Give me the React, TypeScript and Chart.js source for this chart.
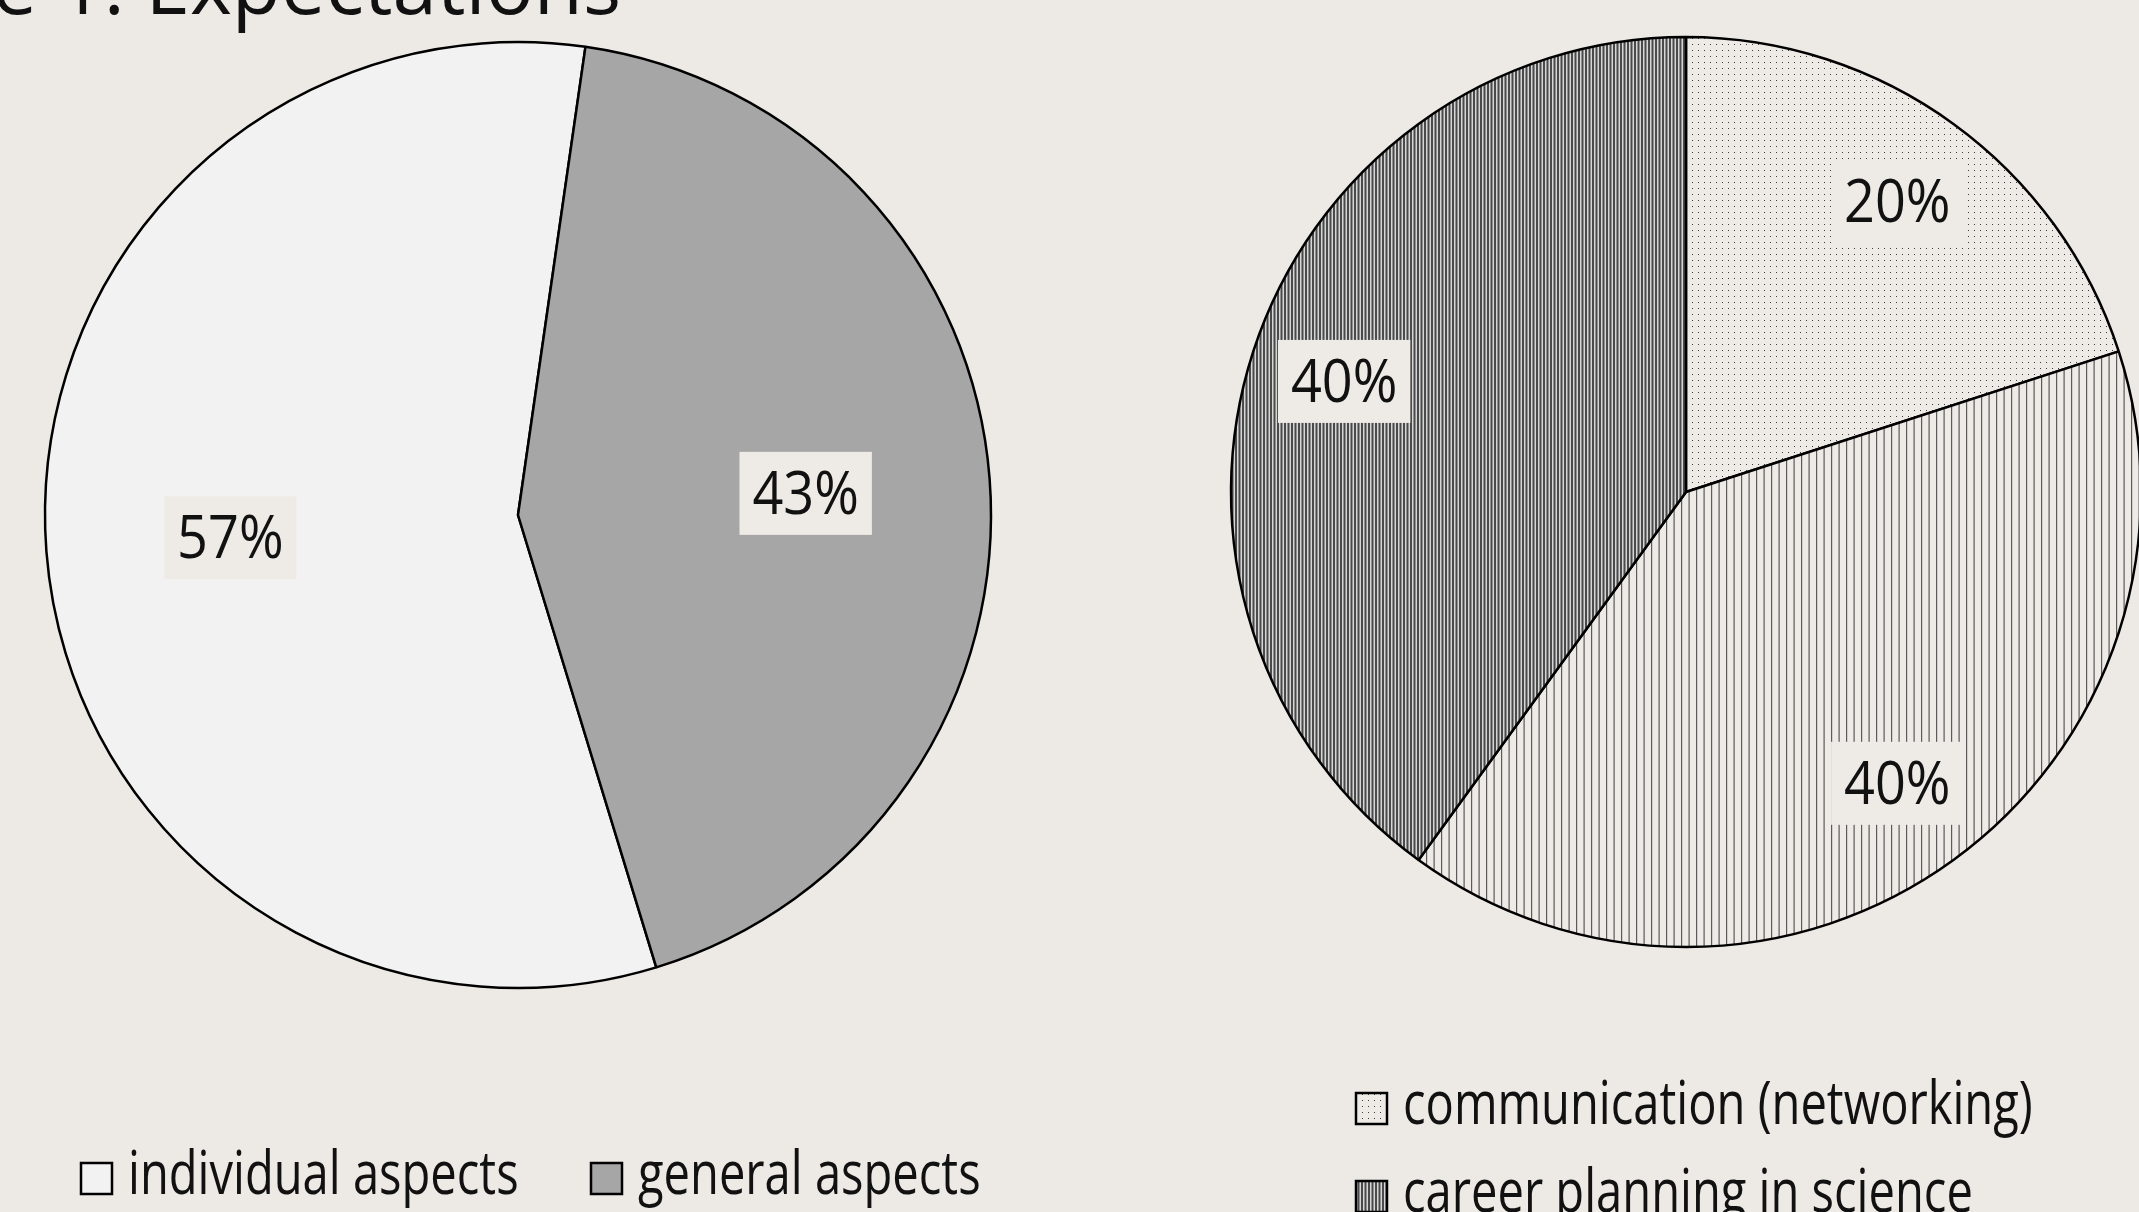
import React, { useEffect, useRef } from "react";
import { Chart, registerables } from "chart.js";

Chart.register(...registerables);

// ---------- data ----------
const titleText = "Figure 1: Expectations";

const leftCategories = ["individual aspects", "general aspects"];
const leftValues = [57, 43];

const rightCategories = ["communication (networking)", "career planning in science", "other topics"];
const rightValues = [20, 40, 40];

// ---------- styles ----------
const PAGE_BG = "#EDEAE5";
const LABEL_BG = "#EEEBE7";
const TEXT_FONT = '"Open Sans", "Noto Sans", sans-serif';
const LABEL_SX = 0.9; // horizontal condensing of slice labels
const LEGEND_SX = 0.785; // horizontal condensing of legend text

type Swatch = string | CanvasPattern;

function makeTile(w: number, h: number, draw: (g: CanvasRenderingContext2D) => void) {
  const c = document.createElement("canvas");
  c.width = w;
  c.height = h;
  const g = c.getContext("2d")!;
  draw(g);
  return c;
}

function makePatterns(ctx: CanvasRenderingContext2D) {
  const dots = makeTile(6, 6, (g) => {
    g.fillStyle = "#EEEBE7";
    g.fillRect(0, 0, 6, 6);
    g.fillStyle = "#3c3c3c";
    g.fillRect(2, 2, 1, 1);
  });
  const light = makeTile(15, 8, (g) => {
    g.fillStyle = "#EEEBE7";
    g.fillRect(0, 0, 15, 8);
    g.fillStyle = "#5a5a5a";
    g.fillRect(0, 0, 1.2, 8);
    g.fillRect(7.5, 0, 1.2, 8);
  });
  const dense = makeTile(7, 8, (g) => {
    g.fillStyle = "#d6d6d6";
    g.fillRect(0, 0, 7, 8);
    g.fillStyle = "#4a4a4a";
    g.fillRect(0, 0, 2, 8);
    g.fillRect(3.5, 0, 2, 8);
  });
  return {
    dots: ctx.createPattern(dots, "repeat")!,
    light: ctx.createPattern(light, "repeat")!,
    dense: ctx.createPattern(dense, "repeat")!,
  };
}

function drawCondensed(ctx: CanvasRenderingContext2D, text: string, x: number, y: number, sx: number) {
  ctx.save();
  ctx.translate(x, y);
  ctx.scale(sx, 1);
  ctx.fillText(text, 0, 0);
  ctx.restore();
}

function sliceLabelPlugin(frac: number) {
  return {
    id: "sliceLabels",
    afterDatasetsDraw(chart: any) {
      const ctx: CanvasRenderingContext2D = chart.ctx;
      const meta = chart.getDatasetMeta(0);
      const data = chart.data.datasets[0].data as number[];
      ctx.save();
      ctx.font = `60px ${TEXT_FONT}`;
      ctx.textAlign = "center";
      ctx.textBaseline = "alphabetic";
      meta.data.forEach((arc: any, i: number) => {
        const p = arc.getProps(["x", "y", "startAngle", "endAngle", "outerRadius"], true);
        const mid = (p.startAngle + p.endAngle) / 2;
        const r = p.outerRadius * frac;
        const cx = p.x + Math.cos(mid) * r;
        const cy = p.y + Math.sin(mid) * r;
        const text = `${data[i]}%`;
        const w = ctx.measureText(text).width * LABEL_SX;
        ctx.fillStyle = LABEL_BG;
        ctx.fillRect(cx - w / 2 - 13, cy - 41, w + 26, 83);
        ctx.fillStyle = "#111";
        drawCondensed(ctx, text, cx, cy + 21, LABEL_SX);
      });
      ctx.restore();
    },
  };
}

type LegendItem = { x: number; y: number; text: string; fill: Swatch };

function legendPlugin(getItems: () => LegendItem[]) {
  return {
    id: "customLegend",
    afterDraw(chart: any) {
      const ctx: CanvasRenderingContext2D = chart.ctx;
      ctx.save();
      ctx.font = `60px ${TEXT_FONT}`;
      ctx.textAlign = "left";
      ctx.textBaseline = "alphabetic";
      for (const it of getItems()) {
        const box = 31;
        ctx.fillStyle = it.fill as any;
        ctx.fillRect(it.x, it.y - box, box, box);
        ctx.lineWidth = 2.5;
        ctx.strokeStyle = "#000";
        ctx.strokeRect(it.x, it.y - box, box, box);
        ctx.fillStyle = "#111";
        drawCondensed(ctx, it.text, it.x + 47, it.y, LEGEND_SX);
      }
      ctx.restore();
    },
  };
}

const titlePlugin = {
  id: "titleText",
  afterDraw(chart: any) {
    const ctx: CanvasRenderingContext2D = chart.ctx;
    ctx.save();
    ctx.font = `400 80px ${TEXT_FONT}`;
    ctx.fillStyle = "#111";
    ctx.textAlign = "right";
    ctx.textBaseline = "alphabetic";
    ctx.fillText(titleText, 621, 14);
    ctx.restore();
  },
};

export default function App() {
  const leftRef = useRef<HTMLCanvasElement>(null);
  const rightRef = useRef<HTMLCanvasElement>(null);

  useEffect(() => {
    const lc = leftRef.current!;
    const rc = rightRef.current!;
    const pats = makePatterns(rc.getContext("2d")!);

    const leftColors = ["#F2F2F2", "#A6A6A6"];
    const rightColors: Swatch[] = [pats.dots, pats.light, pats.dense];

    const left = new Chart(lc, {
      type: "pie",
      data: {
        labels: leftCategories,
        datasets: [
          {
            data: leftValues,
            backgroundColor: leftColors,
            borderColor: "#000",
            borderWidth: 2.5,
          },
        ],
      },
      options: {
        responsive: false,
        animation: false,
        devicePixelRatio: 1,
        rotation: 163,
        radius: 473,
        events: [],
        layout: { padding: { top: 0, left: 0, right: 0, bottom: 182 } },
        plugins: { legend: { display: false }, tooltip: { enabled: false }, title: { display: false } },
      } as any,
      plugins: [
        sliceLabelPlugin(0.61),
        titlePlugin,
        legendPlugin(() => [
          { x: 81, y: 1194, text: leftCategories[0], fill: leftColors[0] },
          { x: 591, y: 1194, text: leftCategories[1], fill: leftColors[1] },
        ]),
      ],
    });

    const right = new Chart(rc, {
      type: "pie",
      data: {
        labels: rightCategories,
        datasets: [
          {
            data: rightValues,
            backgroundColor: rightColors as any,
            borderColor: "#000",
            borderWidth: 2.5,
          },
        ],
      },
      options: {
        responsive: false,
        animation: false,
        devicePixelRatio: 1,
        rotation: 0,
        radius: 455,
        events: [],
        layout: { padding: { top: 0, left: 0, right: 0, bottom: 228 } },
        plugins: { legend: { display: false }, tooltip: { enabled: false }, title: { display: false } },
      } as any,
      plugins: [
        sliceLabelPlugin(0.79),
        legendPlugin(() => [
          { x: 170, y: 1124, text: rightCategories[0], fill: rightColors[0] },
          { x: 170, y: 1212, text: rightCategories[1], fill: rightColors[2] },
          { x: 170, y: 1300, text: rightCategories[2], fill: rightColors[1] },
        ]),
      ],
    });

    return () => {
      left.destroy();
      right.destroy();
    };
  }, []);

  return (
    <div
      style={{
        position: "fixed",
        left: 0,
        top: 0,
        width: 2139,
        height: 1212,
        overflow: "hidden",
        background: PAGE_BG,
      }}
    >
      <canvas
        ref={leftRef}
        width={1036}
        height={1212}
        style={{ position: "absolute", left: 0, top: 0, width: 1036, height: 1212 }}
      />
      <canvas
        ref={rightRef}
        width={1000}
        height={1212}
        style={{ position: "absolute", left: 1186, top: 0, width: 1000, height: 1212 }}
      />
    </div>
  );
}
